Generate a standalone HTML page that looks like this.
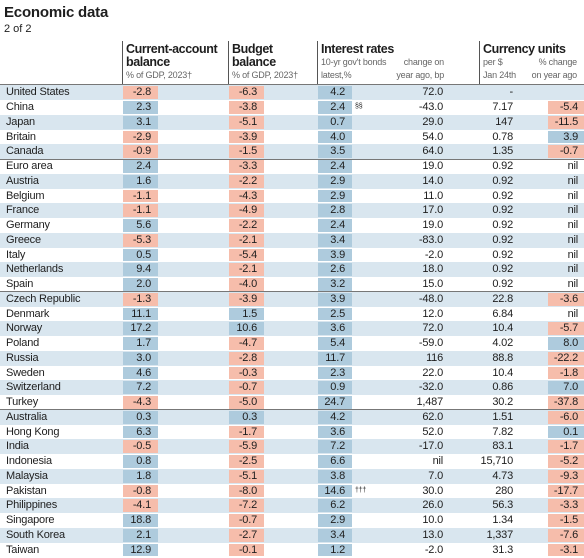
<!DOCTYPE html>
<html><head><meta charset="utf-8">
<style>
body{margin:0;width:584px;height:558px;overflow:hidden;background:#fff;font-family:"Liberation Sans",sans-serif;color:#1e1e1e;position:relative}
.a{position:absolute;white-space:nowrap}
.t{font-size:15px;font-weight:bold;left:4px;top:4px;letter-spacing:-0.2px}
.s{font-size:11px;left:4px;top:23px}
.h{font-size:12.5px;font-weight:bold;line-height:13px;letter-spacing:-0.4px}
.sub{font-size:9px;color:#666;line-height:13px;letter-spacing:-0.2px}
.vl{position:absolute;width:1px;background:#555;top:41px;height:44px}
.row{position:absolute;left:0;width:584px;height:14.75px}
.c{position:absolute;font-size:11px;line-height:14.75px;text-align:right;letter-spacing:-0.2px}
.cell{position:absolute;top:1px;height:12.75px}
</style></head><body>
<div class="a t">Economic data</div>
<div class="a s">2 of 2</div>
<div class="vl" style="left:122px"></div>
<div class="vl" style="left:228px"></div>
<div class="vl" style="left:317px"></div>
<div class="vl" style="left:479px"></div>
<div class="a h" style="left:126px;top:43px">Current-account<br>balance</div>
<div class="a sub" style="left:126px;top:69px">% of GDP, 2023†</div>
<div class="a h" style="left:232px;top:43px">Budget<br>balance</div>
<div class="a sub" style="left:232px;top:69px">% of GDP, 2023†</div>
<div class="a h" style="left:321px;top:43px">Interest rates</div>
<div class="a sub" style="left:321px;top:56px">10-yr gov't bonds<br>latest,%</div>
<div class="a sub" style="left:394px;top:56px;width:50px;text-align:right">change on<br>year ago, bp</div>
<div class="a h" style="left:483px;top:43px">Currency units</div>
<div class="a sub" style="left:483px;top:56px">per $<br>Jan 24th</div>
<div class="a sub" style="left:517px;top:56px;width:60px;text-align:right">% change<br>on year ago</div>
<div id="tbl"></div>
<script>
const countries=["United States","China","Japan","Britain","Canada","Euro area","Austria","Belgium","France","Germany","Greece","Italy","Netherlands","Spain","Czech Republic","Denmark","Norway","Poland","Russia","Sweden","Switzerland","Turkey","Australia","Hong Kong","India","Indonesia","Malaysia","Pakistan","Philippines","Singapore","South Korea","Taiwan"];
const currentAccount=[-2.8,2.3,3.1,-2.9,-0.9,2.4,1.6,-1.1,-1.1,5.6,-5.3,0.5,9.4,2.0,-1.3,11.1,17.2,1.7,3.0,4.6,7.2,-4.3,0.3,6.3,-0.5,0.8,1.8,-0.8,-4.1,18.8,2.1,12.9];
const budget=[-6.3,-3.8,-5.1,-3.9,-1.5,-3.3,-2.2,-4.3,-4.9,-2.2,-2.1,-5.4,-2.1,-4.0,-3.9,1.5,10.6,-4.7,-2.8,-0.3,-0.7,-5.0,0.3,-1.7,-5.9,-2.5,-5.1,-8.0,-7.2,-0.7,-2.7,-0.1];
const bondYield=[4.2,2.4,0.7,4.0,3.5,2.4,2.9,2.9,2.8,2.4,3.4,3.9,2.6,3.2,3.9,2.5,3.6,5.4,11.7,2.3,0.9,24.7,4.2,3.6,7.2,6.6,3.8,14.6,6.2,2.9,3.4,1.2];
const bondNotes=["","§§","","","","","","","","","","","","","","","","","","","","","","","","","","†††","","","",""];
const bondChange=["72.0","-43.0","29.0","54.0","64.0","19.0","14.0","11.0","17.0","19.0","-83.0","-2.0","18.0","15.0","-48.0","12.0","72.0","-59.0","116","22.0","-32.0","1,487","62.0","52.0","-17.0","nil","7.0","30.0","26.0","10.0","13.0","-2.0"];
const perDollar=["-","7.17","147","0.78","1.35","0.92","0.92","0.92","0.92","0.92","0.92","0.92","0.92","0.92","22.8","6.84","10.4","4.02","88.8","10.4","0.86","30.2","1.51","7.82","83.1","15,710","4.73","280","56.3","1.34","1,337","31.3"];
const fxChange=[null,-5.4,-11.5,3.9,-0.7,0,0,0,0,0,0,0,0,0,-3.6,0,-5.7,8.0,-22.2,-1.8,7.0,-37.8,-6.0,0.1,-1.7,-5.2,-9.3,-17.7,-3.3,-1.5,-7.6,-3.1];
const groupBreaks=[5,14,22];

const RH=14.75, TOP=85.3, BLUE="#aecbdd", RED="#f6bdab", BAND="#d9e6ef";
const tbl=document.getElementById('tbl');
function y(i){return TOP+i*RH;}
function col(v){return v<0?RED:BLUE;}
function add(parent,cls,css,txt){const d=document.createElement('div');d.className=cls;d.style.cssText=css;if(txt!==undefined)d.textContent=txt;parent.appendChild(d);return d;}
function fmt(v){return v.toFixed(1);}
countries.forEach((c,i)=>{
  const r=add(tbl,'row','top:'+y(i)+'px;background:'+(i%2===0?BAND:'#fff'));
  
  
  const lab=add(r,'c','left:6px;text-align:left;font-size:11px',c);
  
  
  const ca=add(r,'cell','left:123px;width:35px;background:'+col(currentAccount[i]));
  
  
  add(r,'c','left:123px;width:28px',fmt(currentAccount[i]));
  const bd=add(r,'cell','left:229px;width:35px;background:'+col(budget[i]));
  
  
  add(r,'c','left:229px;width:28px',fmt(budget[i]));
  const br=add(r,'cell','left:318px;width:34px;background:'+BLUE);
  
  
  add(r,'c','left:318px;width:27px',fmt(bondYield[i]));
  if(bondNotes[i]){add(r,'c','left:355px;text-align:left;font-size:7px',bondNotes[i]);}
  const bc=add(r,'c','left:390px;width:53px',bondChange[i]);
  
  
  const pd=add(r,'c','left:460px;width:53px',perDollar[i]);
  
  
  const v=fxChange[i];
  if(v!==null && v!==0){
    const fx=add(r,'cell','left:548px;width:36px;background:'+col(v));
    
    
  }
  add(r,'c','left:530px;width:48px',v===null?'':(v===0?'nil':fmt(v)));
});
groupBreaks.forEach(g=>{
  const l=add(tbl,'a','left:0;width:584px;height:1px;background:#777;top:'+(y(g)-0.5)+'px');
  
  
});
const tl=add(tbl,'a','left:0;width:584px;height:1px;background:#777;top:'+(TOP-1)+'px');


</script>
</body></html>
